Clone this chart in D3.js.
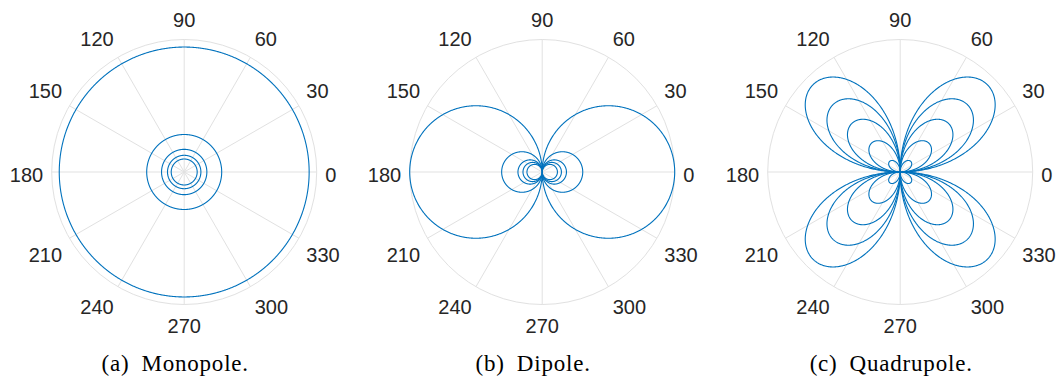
<!DOCTYPE html>
<html>
<head>
<meta charset="utf-8">
<script src="https://cdn.jsdelivr.net/npm/d3@7"></script>
<style>
  html, body { margin: 0; padding: 0; background: #ffffff; }
  svg { display: block; }
</style>
</head>
<body>
<svg id="chart" width="1063" height="378"></svg>
<script>
// Angular tick labels (degrees)
const thetaTicks = [0, 30, 60, 90, 120, 150, 180, 210, 240, 270, 300, 330];

// Subfigure captions
const captionTags = ["(a)", "(b)", "(c)"];
const captionNames = ["Monopole.", "Dipole.", "Quadrupole."];

// Peak pressure amplitude of each curve, per source type
const monopoleAmp = [0.943, 0.283, 0.171, 0.126, 0.098];
const dipoleAmp = [1.0, 0.306, 0.183, 0.145, 0.115];
const quadrupoleAmp = [0.931, 0.718, 0.517, 0.307, 0.113];

// Directivity of each source type
const directivity = [
  t => 1,
  t => Math.abs(Math.cos(t)),
  t => Math.abs(Math.sin(2 * t))
];
const amplitudes = [monopoleAmp, dipoleAmp, quadrupoleAmp];

const W = 1063, H = 378;
const R = 132.5;
const cy = 172;
const cx0 = 184.2, panelStep = 358;
const rMax = 1;

const svg = d3.select("#chart");
const rScale = d3.scaleLinear().domain([0, rMax]).range([0, R]);
const toRad = d => d * Math.PI / 180;
const thetaSamples = d3.range(0, 360.25, 0.25).map(toRad);

const gridColor = "#e1e1e1";
const lineColor = "#0072BD";
const labelGap = 8.5;

for (let p = 0; p < 3; p++) {
  const cx = cx0 + p * panelStep;
  const g = svg.append("g").attr("transform", `translate(${cx},${cy})`);

  // spokes
  g.selectAll("line.spoke").data(thetaTicks).join("line")
    .attr("class", "spoke")
    .attr("x1", 0).attr("y1", 0)
    .attr("x2", d => rScale(rMax) * Math.cos(toRad(d)))
    .attr("y2", d => -rScale(rMax) * Math.sin(toRad(d)))
    .attr("stroke", gridColor).attr("stroke-width", 1);

  // outer circle
  g.append("circle").attr("r", rScale(rMax))
    .attr("fill", "none").attr("stroke", gridColor).attr("stroke-width", 1);

  // curves
  const line = d3.lineRadial()
    .angle(d => Math.PI / 2 - d.t)
    .radius(d => rScale(d.r))
    .curve(d3.curveLinear);

  amplitudes[p].forEach(a => {
    const pts = thetaSamples.map(t => ({ t, r: a * directivity[p](t) }));
    g.append("path")
      .attr("d", line(pts) + "Z")
      .attr("fill", "none")
      .attr("stroke", lineColor)
      .attr("stroke-width", 1.1)
      .attr("stroke-linejoin", "round");
  });

  // angular tick labels
  const lr = rScale(rMax) + labelGap;
  g.selectAll("text.tick").data(thetaTicks).join("text")
    .attr("class", "tick")
    .attr("x", d => lr * Math.cos(toRad(d)))
    .attr("y", d => {
      const s = Math.sin(toRad(d));
      if (s > 1e-6) return -lr * s - 4;
      if (s < -1e-6) return -lr * s + 19.8;
      return 10;
    })
    .attr("text-anchor", d => {
      const c = Math.cos(toRad(d));
      return c > 1e-6 ? "start" : (c < -1e-6 ? "end" : "middle");
    })
    .attr("font-family", "'Liberation Sans', Arial, sans-serif")
    .attr("font-size", 20)
    .attr("fill", "#262626")
    .text(d => d);

  // caption
  const cap = svg.append("text")
    .attr("x", cx - 9).attr("y", 371)
    .attr("text-anchor", "middle")
    .attr("font-family", "'Liberation Serif', 'Times New Roman', serif")
    .attr("font-size", 23)
    .attr("letter-spacing", "0.8px")
    .attr("fill", "#000");
  cap.append("tspan").text(captionTags[p]);
  cap.append("tspan").attr("dx", 12).text(captionNames[p]);
}
</script>
</body>
</html>
